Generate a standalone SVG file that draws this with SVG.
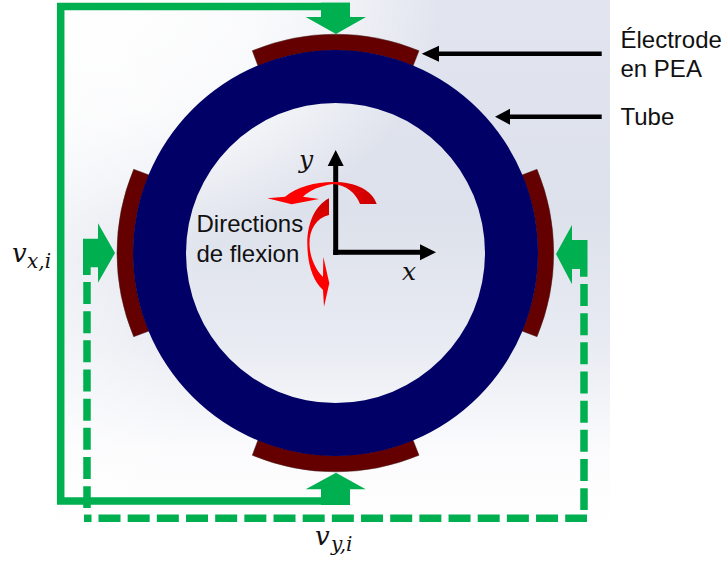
<svg xmlns="http://www.w3.org/2000/svg" width="724" height="563" viewBox="0 0 724 563">
<defs>
<linearGradient id="bg" gradientUnits="userSpaceOnUse" x1="0" y1="0" x2="0" y2="528"><stop offset="0" stop-color="#e2e5ef"/><stop offset="0.4" stop-color="#dde1eb"/><stop offset="0.65" stop-color="#e8ebf2"/><stop offset="0.85" stop-color="#fbfbfd"/><stop offset="1" stop-color="#ffffff"/></linearGradient>
<radialGradient id="fadeTop" gradientUnits="userSpaceOnUse" cx="0" cy="0" r="1" gradientTransform="translate(100 0) scale(340 260)"><stop offset="0" stop-color="#fff" stop-opacity="1"/><stop offset="0.45" stop-color="#fff" stop-opacity="0.85"/><stop offset="0.7" stop-color="#fff" stop-opacity="0.55"/><stop offset="1" stop-color="#fff" stop-opacity="0"/></radialGradient>
<linearGradient id="fadeLeft" gradientUnits="userSpaceOnUse" x1="58" y1="0" x2="200" y2="0"><stop offset="0" stop-color="#fff" stop-opacity="0.5"/><stop offset="1" stop-color="#fff" stop-opacity="0"/></linearGradient>
<linearGradient id="redA" gradientUnits="userSpaceOnUse" x1="376" y1="204" x2="270" y2="198"><stop offset="0" stop-color="#c80000"/><stop offset="0.5" stop-color="#ff0000"/><stop offset="1" stop-color="#ff0000"/></linearGradient>
<linearGradient id="redB" gradientUnits="userSpaceOnUse" x1="329" y1="198" x2="322" y2="300"><stop offset="0" stop-color="#c80000"/><stop offset="0.45" stop-color="#ff0000"/><stop offset="1" stop-color="#ff0000"/></linearGradient>
</defs>
<style>
.sans{font-family:"Liberation Sans",Arial,sans-serif;font-size:24px;fill:#111}
.math{font-family:"DejaVu Serif",serif;font-style:italic;fill:#111}
.green{fill:none;stroke:#00b050;stroke-width:7.5}
.dash{stroke-dasharray:22 7.170}
.fillg{fill:#00b050}
.elec{fill:#640000;stroke:#4a2020;stroke-width:.5}
.blk{stroke:#000;fill:none;stroke-width:4.5}
</style>
<rect id="background" x="58" y="0" width="552" height="528" fill="url(#bg)"/>
<rect x="58" y="0" width="552" height="528" fill="url(#fadeTop)"/>
<rect x="58" y="0" width="142" height="528" fill="url(#fadeLeft)"/>
<g id="electrode-top"><path class="elec" d="M252.300 50.700A218 218 0 0 1 419 50.700L413 66A202 202 0 0 0 258 66Z"/></g>
<g id="electrode-bottom"><path class="elec" d="M252.300 455.300A218 218 0 0 0 419 455.300L413 440A202 202 0 0 1 258 440Z"/></g>
<g id="electrode-left"><path class="elec" d="M133.700 169.300A218 218 0 0 0 133.700 336.700L149 331A202 202 0 0 1 149 175Z"/></g>
<g id="electrode-right"><path class="elec" d="M537 169.300A218 218 0 0 1 537 336.700L522 331A202 202 0 0 0 522 175Z"/></g>
<g id="tube"><path fill="#000066" fill-rule="evenodd" d="M133 253a202.500 203 0 1 0 405 0a202.500 203 0 1 0 -405 0ZM186 253a149.500 150 0 1 1 299 0a149.500 150 0 1 1 -299 0Z"/></g>
<g id="connectors">
<path class="green" d="M350 6.500H60.700V501H350"/>
<path class="green dash" d="M87 282V508"/>
<path class="green" d="M84 518.300H91.500"/>
<path class="green dash" d="M98.500 518.300H587"/>
<path class="green dash" d="M584 284V510"/>
<path class="blk" d="M601.700 53.700H439"/><path d="M439 45.700V61.700L421.700 53.700Z" fill="#000"/>
<path class="blk" d="M601.700 116.700H510"/><path d="M510 108.700V124.700L495 116.700Z" fill="#000"/>
</g>
<g id="arrow-top"><path class="fillg" d="M321 2.700H350V17H366L336 34L305.700 17H321Z"/></g>
<g id="arrow-bottom"><path class="fillg" d="M321 505H350V489.300H365.700L336 472.700L305.700 489.300H321Z"/></g>
<g id="arrow-left"><path class="fillg" d="M83 238.700H98V223.300L115 253L98 282.700V267.300H90.700V275H83Z"/></g>
<g id="arrow-right"><path class="fillg" d="M587.500 240H572V225L556 254L572 284.300V269H580V276.700H587.500Z"/></g>
<g id="axes">
<path class="blk" style="stroke-width:5" d="M335.700 255V166"/><path d="M327.700 166H343.700L335.700 150Z" fill="#000"/>
<path class="blk" style="stroke-width:5" d="M333.300 252.300H420"/><path d="M420 244.300V260.300L436 252.300Z" fill="#000"/>
</g>
<g id="flexion">
<path fill="url(#redA)" d="M376.700 204C372 190 356 182 333 182C315 182 297 187 285 196.700L267.300 198.300L291.700 204.300L319 199L303 196.700C310 190 320 186 333 184C346 185 356 193 360 204Z"/>
<path fill="url(#redB)" d="M329 198.300C314 206 307.300 225 307.300 243C307.300 262 312 280 323 290L324 306.700L329.300 283.300L323.300 256.700L323 277C314 268 309.500 255 309.500 243C309.500 230 316 218 329 215Z"/>
</g>
<g id="labels">
<text class="sans" x="620.500" y="48">Électrode</text>
<text class="sans" x="620.500" y="77">en PEA</text>
<text class="sans" x="620.500" y="125">Tube</text>
<text class="sans" x="196.500" y="232">Directions</text>
<text class="sans" x="196.500" y="261.700">de flexion</text>
<text class="math" font-size="25" x="299" y="168">y</text>
<text class="math" font-size="25" x="402" y="280">x</text>
<text class="math" font-size="26" x="12" y="262">v</text>
<text class="math" font-size="20" x="27" y="268">x,i</text>
<text class="math" font-size="26" x="315" y="545">v</text>
<text class="math" font-size="20" x="331" y="551">y,i</text>
</g>
</svg>
